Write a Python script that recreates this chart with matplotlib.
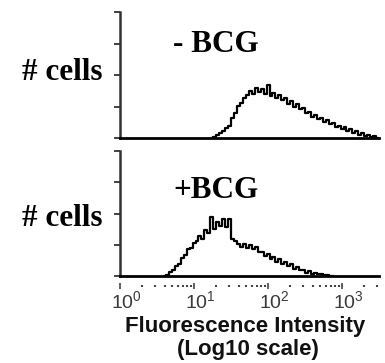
import numpy as np
import matplotlib
matplotlib.use('Agg')
import matplotlib.pyplot as plt
import matplotlib.transforms as mtransforms
from matplotlib.ticker import LogLocator, NullFormatter

plt.rcParams['font.family'] = 'Liberation Sans'

# Histogram bins are in log10 units, step 0.04
bin_step = 0.04

# - BCG histogram (counts in y-tick units)
minus_start = 1.24
minus_counts = [0.00, 0.03, 0.08, 0.17, 0.22, 0.33, 0.38, 0.62, 0.80, 1.02,
                1.10, 1.28, 1.35, 1.50, 1.40, 1.60, 1.45, 1.56, 1.41, 1.68,
                1.34, 1.42, 1.26, 1.35, 1.20, 1.27, 1.08, 1.18, 1.00, 1.07,
                0.93, 0.94, 0.78, 0.84, 0.68, 0.74, 0.60, 0.62, 0.51, 0.57,
                0.43, 0.49, 0.36, 0.38, 0.28, 0.34, 0.22, 0.28, 0.16, 0.22,
                0.11, 0.17, 0.06, 0.11, 0.03, 0.05, 0.00]

# +BCG histogram
plus_start = 0.60
plus_counts = [0.00, 0.04, 0.12, 0.20, 0.33, 0.40, 0.58, 0.66, 0.86, 0.90,
               1.06, 1.12, 1.28, 1.20, 1.46, 1.38, 1.90, 1.52, 1.74, 1.60,
               1.82, 1.56, 1.84, 1.20, 1.12, 1.02, 0.94, 1.02, 0.90, 0.98,
               0.86, 0.92, 0.76, 0.76, 0.64, 0.72, 0.54, 0.62, 0.46, 0.54,
               0.40, 0.46, 0.32, 0.38, 0.24, 0.29, 0.18, 0.20, 0.11, 0.16,
               0.07, 0.10, 0.05, 0.06, 0.02, 0.03, 0.01, 0.00]

panel_labels = ['- BCG', '+BCG']
x_range = (1, 10 ** 3.5)
y_ticks = [0, 1, 2, 3, 4]

W, H = 385, 363
fig = plt.figure(figsize=(W / 100, H / 100), dpi=100)

def px_axes(left, top, right, bottom):
    return fig.add_axes([left / W, 1 - bottom / H, (right - left) / W, (bottom - top) / H])

ax_top = px_axes(120, 12, 379, 138)
ax_bot = px_axes(120, 151, 379, 276)

spine_col = '#333333'
for ax, start, counts in [(ax_top, minus_start, minus_counts), (ax_bot, plus_start, plus_counts)]:
    lx = start + bin_step * np.arange(len(counts))
    ax.plot(10 ** lx, counts, color='black', linewidth=1.6, drawstyle='steps-mid')
    ax.set_xscale('log')
    ax.set_xlim(*x_range)
    ax.set_ylim(0, 4)
    ax.set_yticks(y_ticks)
    ax.set_yticklabels([])
    ax.tick_params(axis='y', direction='out', length=4, width=1.3, color=spine_col)
    ax.spines['top'].set_visible(False)
    ax.spines['right'].set_visible(False)
    ax.spines['left'].set_color(spine_col)
    ax.spines['left'].set_linewidth(1.8)
    ax.axhline(0, color='black', linewidth=2.0, clip_on=False, zorder=3)
    ax.spines['bottom'].set_position(('outward', 7))
    ax.spines['bottom'].set_color('none')

ax_top.set_xticks([])
ax_top.minorticks_off()
ax_top.tick_params(axis='x', which='both', length=0, labelbottom=False)

ax_bot.xaxis.set_major_locator(LogLocator(base=10, numticks=10))
ax_bot.xaxis.set_minor_locator(LogLocator(base=10, subs=np.arange(2, 10), numticks=10))
ax_bot.xaxis.set_minor_formatter(NullFormatter())
ax_bot.tick_params(axis='x', which='major', direction='inout', length=4, width=1.2,
                   color='#444444', labelsize=14, labelcolor='#3a3a3a', pad=1)
ax_bot.tick_params(axis='x', which='minor', direction='inout', length=1.5, width=1.5,
                   color='#444444')
offset = mtransforms.ScaledTranslation(6 / 100, 0, fig.dpi_scale_trans)
for lab in ax_bot.get_xticklabels():
    lab.set_transform(lab.get_transform() + offset)

serif = dict(family='Liberation Serif', fontweight='bold', fontsize=22.5, va='baseline')
fig.text(22 / W, 1 - 80 / H, '# cells', ha='left', **serif)
fig.text(22 / W, 1 - 226 / H, '# cells', ha='left', **serif)
fig.text(173 / W, 1 - 52 / H, panel_labels[0], ha='left', **serif)
fig.text(173 / W, 1 - 198 / H, panel_labels[1], ha='left', **serif)

fig.text(245 / W, 1 - 332 / H, 'Fluorescence Intensity', ha='center', va='baseline',
         fontsize=16, fontweight='bold', color='#111111')
fig.text(248 / W, 1 - 355 / H, '(Log10 scale)', ha='center', va='baseline',
         fontsize=16, fontweight='bold', color='#111111')

fig.savefig('out.png', dpi=100)
